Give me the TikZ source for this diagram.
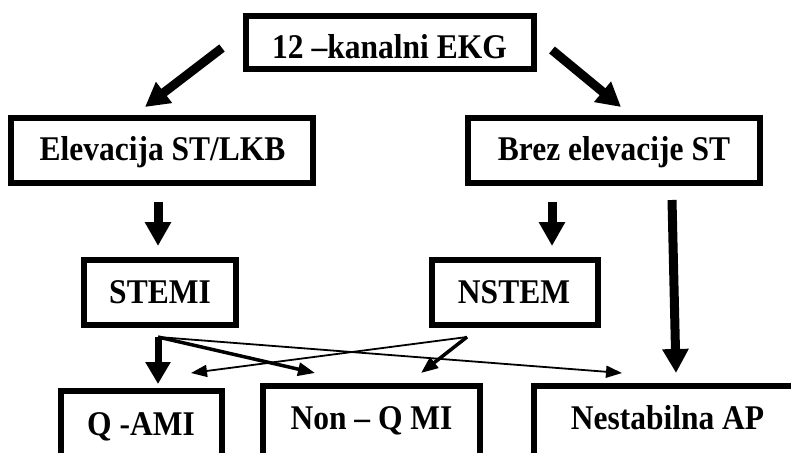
\documentclass[tikz,border=0pt]{standalone}
\usepackage{fontspec}
\setmainfont{Liberation Serif}
\usetikzlibrary{arrows.meta}
\newcommand{\tallbox}[1]{\scalebox{1}[1.1]{#1}}
\begin{document}
\begin{tikzpicture}[x=1pt,y=-1pt,
  box/.style={draw, line width=6pt, inner sep=0pt, outer sep=0pt},
  txt/.style={anchor=base, inner sep=0pt, font=\fontsize{31.5}{36}\selectfont\bfseries},
  bigarrow/.style={line width=9pt, -{Triangle[length=24pt,width=25pt]}},
  midarrow/.style={line width=3.5pt, -{Triangle[length=17pt,width=13pt]}},
  thinarrow/.style={line width=1.8pt, -{Triangle[length=16pt,width=12pt]}}
]
\useasboundingbox (0,0) rectangle (791,452);
\clip (0,0) rectangle (791,452);

% boxes
\node[box, minimum width=288pt, minimum height=53pt] (ekg) at (390,42.5) {};
\node[box, minimum width=302pt, minimum height=65pt] (elev) at (162,150.5) {};
\node[box, minimum width=292pt, minimum height=65pt] (brez) at (614,150.5) {};
\node[box, minimum width=152pt, minimum height=65pt] (stemi) at (160,292.5) {};
\node[box, minimum width=166pt, minimum height=65pt] (nstem) at (515,292.5) {};
\node[box, minimum width=161pt, minimum height=89pt] (qami) at (141.5,435.5) {};
\node[box, minimum width=217pt, minimum height=94pt] (nonq) at (371.5,433) {};
\node[box, minimum width=296pt, minimum height=94pt] (nest) at (682,433) {};

% texts
\node[txt] (ekgt) at (389.5,58) {\tallbox{12 –kanalni EKG}};
\node[txt] (elevt) at (162.5,160) {\tallbox{Elevacija ST/LKB}};
\node[txt] (brezt) at (614,160) {\tallbox{Brez elevacije ST}};
\node[txt] (stemit) at (160,303) {\tallbox{STEMI}};
\node[txt] (nstemt) at (514,303) {\tallbox{NSTEM}};
\node[txt] (qamit) at (141,435) {\tallbox{Q -AMI}};
\node[txt] (nonqt) at (371.5,429) {\tallbox{Non – Q MI}};
\node[txt] (nestt) at (667.5,429) {\tallbox{Nestabilna AP}};

% connector end points
\coordinate (e1) at (222,48);
\coordinate (e1t) at (145,107);
\coordinate (e2) at (552,50);
\coordinate (e2t) at (621,107);
\coordinate (l1) at (158,202);
\coordinate (l1t) at (158,246);
\coordinate (r1) at (552,202);
\coordinate (r1t) at (552,246);
\coordinate (r2) at (672,200);
\coordinate (r2t) at (676,373);
\coordinate (s0) at (158,337);
\coordinate (sq) at (158,384);
\coordinate (sn) at (315,373);
\coordinate (sa) at (622,373);
\coordinate (n0) at (467,337);
\coordinate (nq) at (191,373);
\coordinate (nn) at (421,373);

% connectors
\draw[bigarrow] (e1) -- (e1t);
\draw[bigarrow] (e2) -- (e2t);
\draw[bigarrow] (l1) -- (l1t);
\draw[bigarrow] (r1) -- (r1t);
\draw[bigarrow] (r2) -- (r2t);
\draw[line width=7pt, -{Triangle[length=22pt,width=24pt]}] (s0) -- (sq);
\draw[midarrow] (s0) -- (sn);
\draw[thinarrow] (s0) -- (sa);
\draw[thinarrow] (n0) -- (nq);
\draw[midarrow] (n0) -- (nn);
\end{tikzpicture}
\end{document}
